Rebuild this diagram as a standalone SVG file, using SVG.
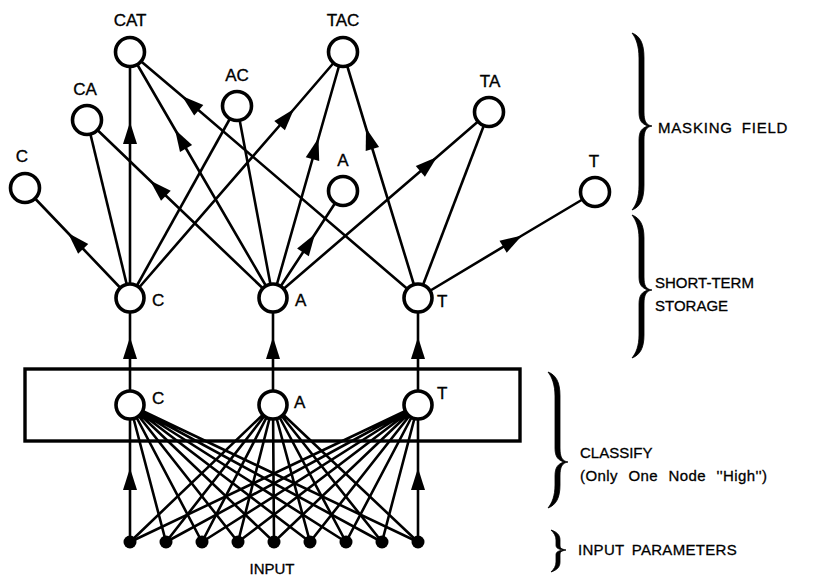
<svg xmlns="http://www.w3.org/2000/svg" width="820" height="578" viewBox="0 0 820 578">
  <style>
    .ln { stroke: #000; stroke-width: 2.6; fill: none; }
    .arr { stroke: #000; stroke-width: 2.6; fill: none; marker-mid: url(#ah); }
    .node { fill: #fff; stroke: #000; stroke-width: 3.6; }
    .dot { fill: #000; }
    .lbl { font-family: "Liberation Sans", Arial, sans-serif; font-size: 17px; fill: #000; stroke: #000; stroke-width: 0.35; }
    .side { font-family: "Liberation Sans", Arial, sans-serif; font-size: 15px; fill: #000; stroke: #000; stroke-width: 0.3; }
    .brace { fill: #000; stroke: #000; stroke-width: 0.8; stroke-linejoin: round; }
  </style>
  <defs>
    <marker id="ah" viewBox="-23 -8 24 16" refX="0" refY="0" markerWidth="24" markerHeight="16" markerUnits="userSpaceOnUse" orient="auto">
      <path d="M0,0 L-22,-7 L-22,7 Z" fill="#000"/>
    </marker>
  </defs>
  <rect width="820" height="578" fill="#fff"/>

  <!-- classify box -->
  <rect id="classify-box" x="25" y="369" width="495" height="72" fill="none" stroke="#000" stroke-width="3.4"/>

  <g id="connectors">
    <!-- short-term storage to masking field -->
    <path class="arr" d="M130,298 L68,233 L25,188"/>
    <path class="ln" d="M130,298 L87,120"/>
    <path class="arr" d="M130,298 L130,122 L130,52"/>
    <path class="ln" d="M130,298 L237,106"/>
    <path class="arr" d="M130,298 L294,109 L343,52"/>

    <path class="arr" d="M273,298 L150,180.5 L87,120"/>
    <path class="arr" d="M273,298 L175,129.5 L130,52"/>
    <path class="ln" d="M273,298 L237,106"/>
    <path class="arr" d="M273,298 L318.5,138 L343,52"/>
    <path class="arr" d="M273,298 L315,234 L343,191"/>
    <path class="arr" d="M273,298 L437,157 L489,112"/>

    <path class="arr" d="M418,298 L182,96 L130,52"/>
    <path class="arr" d="M418,298 L366,128 L343,52"/>
    <path class="ln" d="M418,298 L489,112"/>
    <path class="arr" d="M418,298 L522,235.5 L595,192"/>

    <!-- classify to short-term storage -->
    <path class="arr" d="M130,405 L130,337 L130,298"/>
    <path class="arr" d="M273,405 L273,337 L273,298"/>
    <path class="arr" d="M418,405 L418,337 L418,298"/>

    <!-- input parameters to classify nodes -->
    <path class="arr" d="M130,542 L130,468 L130,405"/>
    <path class="ln" d="M166,542 L130,405 M202,542 L130,405 M238,542 L130,405 M274,542 L130,405 M310,542 L130,405 M346,542 L130,405 M382,542 L130,405 M418,542 L130,405"/>
    <path class="ln" d="M130,542 L273,405 M166,542 L273,405 M202,542 L273,405 M238,542 L273,405 M274,542 L273,405 M310,542 L273,405 M346,542 L273,405 M382,542 L273,405 M418,542 L273,405"/>
    <path class="ln" d="M130,542 L418,405 M166,542 L418,405 M202,542 L418,405 M238,542 L418,405 M274,542 L418,405 M310,542 L418,405 M346,542 L418,405 M382,542 L418,405"/>
    <path class="arr" d="M418,542 L418,468 L418,405"/>
  </g>

  <!-- masking field -->
  <g id="m-c"><circle class="node" cx="25" cy="188" r="14.5"/><text class="lbl" x="22" y="162" text-anchor="middle">C</text></g>
  <g id="m-ca"><circle class="node" cx="87" cy="120" r="14.5"/><text class="lbl" x="85" y="95" text-anchor="middle">CA</text></g>
  <g id="m-cat"><circle class="node" cx="130" cy="52" r="14.5"/><text class="lbl" x="130" y="26" text-anchor="middle">CAT</text></g>
  <g id="m-ac"><circle class="node" cx="237" cy="106" r="14.5"/><text class="lbl" x="237" y="81" text-anchor="middle">AC</text></g>
  <g id="m-tac"><circle class="node" cx="343" cy="52" r="14.5"/><text class="lbl" x="343" y="26" text-anchor="middle">TAC</text></g>
  <g id="m-ta"><circle class="node" cx="489" cy="112" r="14.5"/><text class="lbl" x="490" y="87" text-anchor="middle">TA</text></g>
  <g id="m-a"><circle class="node" cx="343" cy="191" r="14.5"/><text class="lbl" x="343" y="166" text-anchor="middle">A</text></g>
  <g id="m-t"><circle class="node" cx="595" cy="192" r="14.5"/><text class="lbl" x="594" y="167" text-anchor="middle">T</text></g>

  <!-- short-term storage -->
  <g id="s-c"><circle class="node" cx="130" cy="298" r="14"/><text class="lbl" x="152" y="306">C</text></g>
  <g id="s-a"><circle class="node" cx="273" cy="298" r="14"/><text class="lbl" x="295" y="306">A</text></g>
  <g id="s-t"><circle class="node" cx="418" cy="298" r="14"/><text class="lbl" x="437" y="307">T</text></g>

  <!-- classify -->
  <g id="k-c"><circle class="node" cx="130" cy="405" r="14"/><text class="lbl" x="152" y="404">C</text></g>
  <g id="k-a"><circle class="node" cx="273" cy="405" r="14"/><text class="lbl" x="294" y="408">A</text></g>
  <g id="k-t"><circle class="node" cx="418" cy="405" r="14"/><text class="lbl" x="437" y="399">T</text></g>

  <!-- input parameters -->
  <g id="inputs">
    <circle class="dot" cx="130" cy="542" r="6.5"/>
    <circle class="dot" cx="166" cy="542" r="6.5"/>
    <circle class="dot" cx="202" cy="542" r="6.5"/>
    <circle class="dot" cx="238" cy="542" r="6.5"/>
    <circle class="dot" cx="274" cy="542" r="6.5"/>
    <circle class="dot" cx="310" cy="542" r="6.5"/>
    <circle class="dot" cx="346" cy="542" r="6.5"/>
    <circle class="dot" cx="382" cy="542" r="6.5"/>
    <circle class="dot" cx="418" cy="542" r="6.5"/>
    <text class="side" x="272" y="574" text-anchor="middle">INPUT</text>
  </g>

  <!-- level braces and captions -->
  <g id="brace-masking">
    <path class="brace" d="M632,33 C640,36 644,43 644,58 L644,112 C644,121 646,125 652,126 C646,127 644,131 644,140 L644,185 C644,200 640,207 632,210 C636,205 639,198 639,185 L639,140 C639,131 642,128 648,126 C642,124 639,121 639,112 L639,58 C639,46 636,38 632,33 Z"/>
    <text class="side" x="658" y="133" letter-spacing="0.8" word-spacing="4">MASKING FIELD</text>
  </g>
  <g id="brace-storage">
    <path class="brace" d="M632,215 C640,218 644,225 644,238 L644,277 C644,286 646,289 652,290 C646,291 644,295 644,304 L644,335 C644,348 640,355 632,358 C636,353 639,346 639,335 L639,304 C639,295 642,292 648,290 C642,288 639,285 639,277 L639,238 C639,228 636,220 632,215 Z"/>
    <text class="side" x="655" y="288">SHORT-TERM</text>
    <text class="side" x="655" y="311">STORAGE</text>
  </g>
  <g id="brace-classify">
    <path class="brace" d="M548,372 C556,375 560,382 560,396 L560,448 C560,457 562,461 568,462 C562,463 560,467 560,476 L560,485 C560,498 556,505 548,508 C552,503 555,496 555,485 L555,476 C555,467 558,464 564,462 C558,460 555,457 555,448 L555,396 C555,385 552,377 548,372 Z"/>
    <text class="side" x="580" y="458">CLASSIFY</text>
    <text class="side" x="580" y="481" letter-spacing="0.4" word-spacing="6">(Only One Node ''High'')</text>
  </g>
  <g id="brace-input">
    <path class="brace" d="M551,530 C557,532 560,535 560,540 L560,545 C560,548 561,549 566,550 C561,551 560,552 560,555 L560,562 C560,567 557,570 551,572 C554,569 556,566 556,562 L556,555 C556,552 558,551 563,550 C558,549 556,548 556,545 L556,540 C556,536 554,533 551,530 Z"/>
    <text class="side" x="578" y="555" letter-spacing="0.3" word-spacing="3">INPUT PARAMETERS</text>
  </g>
</svg>
